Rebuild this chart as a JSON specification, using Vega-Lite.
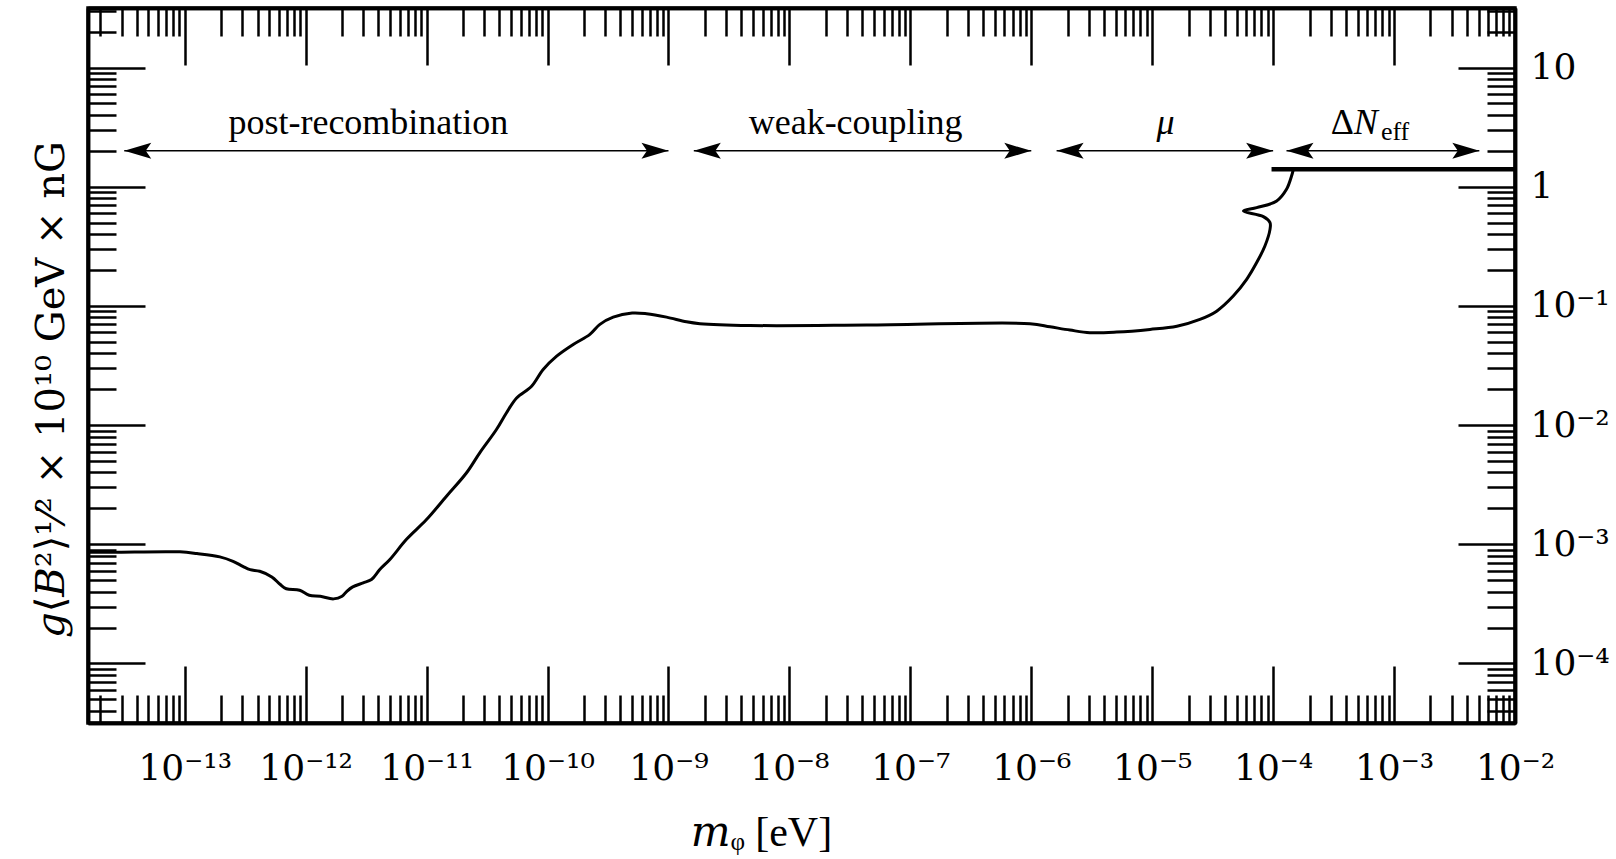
{
  "$schema": "https://vega.github.io/schema/vega-lite/v6.json",
  "width": 1427,
  "height": 715,
  "autosize": {"type": "none"},
  "padding": {"left": 88, "top": 8, "right": 101, "bottom": 136},
  "background": "white",
  "config": {
    "view": {"stroke": "black", "strokeWidth": 3.5},
    "axis": {
      "grid": false,
      "domainColor": "black",
      "domainWidth": 3.5,
      "tickColor": "black",
      "tickWidth": 2.5,
      "labelFont": "DejaVu Serif",
      "titleFont": "Liberation Serif, DejaVu Serif",
      "labelColor": "black",
      "titleColor": "black",
      "labelFontSize": 36,
      "titleFontSize": 42,
      "titleFontWeight": "normal"
    }
  },
  "datasets": {
    "curve": [
      {"i": 0, "m": 1.585e-14, "g": 8.57e-4},
      {"i": 1, "m": 2.57e-14, "g": 8.57e-4},
      {"i": 2, "m": 9.12e-14, "g": 8.63e-4},
      {"i": 3, "m": 1.26e-13, "g": 8.36e-4},
      {"i": 4, "m": 1.95e-13, "g": 7.83e-4},
      {"i": 5, "m": 2.51e-13, "g": 7.19e-4},
      {"i": 6, "m": 3.02e-13, "g": 6.53e-4},
      {"i": 7, "m": 3.47e-13, "g": 6.12e-4},
      {"i": 8, "m": 4.17e-13, "g": 5.93e-4},
      {"i": 9, "m": 5.25e-13, "g": 5.32e-4},
      {"i": 10, "m": 6.17e-13, "g": 4.59e-4},
      {"i": 11, "m": 6.92e-13, "g": 4.23e-4},
      {"i": 12, "m": 8.91e-13, "g": 4.11e-4},
      {"i": 13, "m": 1.07e-12, "g": 3.73e-4},
      {"i": 14, "m": 1.32e-12, "g": 3.66e-4},
      {"i": 15, "m": 1.70e-12, "g": 3.48e-4},
      {"i": 16, "m": 2.00e-12, "g": 3.66e-4},
      {"i": 17, "m": 2.19e-12, "g": 4.03e-4},
      {"i": 18, "m": 2.45e-12, "g": 4.39e-4},
      {"i": 19, "m": 2.99e-12, "g": 4.74e-4},
      {"i": 20, "m": 3.50e-12, "g": 5.06e-4},
      {"i": 21, "m": 4.10e-12, "g": 6.14e-4},
      {"i": 22, "m": 4.97e-12, "g": 7.45e-4},
      {"i": 23, "m": 6.82e-12, "g": 1.10e-3},
      {"i": 24, "m": 9.98e-12, "g": 1.61e-3},
      {"i": 25, "m": 1.46e-11, "g": 2.53e-3},
      {"i": 26, "m": 2.14e-11, "g": 3.98e-3},
      {"i": 27, "m": 2.75e-11, "g": 5.85e-3},
      {"i": 28, "m": 3.78e-11, "g": 9.18e-3},
      {"i": 29, "m": 4.58e-11, "g": 1.27e-2},
      {"i": 30, "m": 5.55e-11, "g": 1.69e-2},
      {"i": 31, "m": 7.38e-11, "g": 2.12e-2},
      {"i": 32, "m": 9.20e-11, "g": 2.93e-2},
      {"i": 33, "m": 1.19e-10, "g": 3.79e-2},
      {"i": 34, "m": 1.63e-10, "g": 4.75e-2},
      {"i": 35, "m": 2.24e-10, "g": 5.77e-2},
      {"i": 36, "m": 2.71e-10, "g": 7.00e-2},
      {"i": 37, "m": 3.49e-10, "g": 8.05e-2},
      {"i": 38, "m": 5.01e-10, "g": 8.71e-2},
      {"i": 39, "m": 6.59e-10, "g": 8.59e-2},
      {"i": 40, "m": 9.64e-10, "g": 8.05e-2},
      {"i": 41, "m": 1.41e-9, "g": 7.36e-2},
      {"i": 42, "m": 1.82e-9, "g": 7.10e-2},
      {"i": 43, "m": 4.71e-9, "g": 6.85e-2},
      {"i": 44, "m": 4.35e-8, "g": 6.90e-2},
      {"i": 45, "m": 9.75e-7, "g": 7.10e-2},
      {"i": 46, "m": 1.43e-6, "g": 6.68e-2},
      {"i": 47, "m": 2.09e-6, "g": 6.27e-2},
      {"i": 48, "m": 3.05e-6, "g": 5.96e-2},
      {"i": 49, "m": 5.08e-6, "g": 6.03e-2},
      {"i": 50, "m": 9.59e-6, "g": 6.35e-2},
      {"i": 51, "m": 1.60e-5, "g": 6.76e-2},
      {"i": 52, "m": 2.48e-5, "g": 7.71e-2},
      {"i": 53, "m": 3.41e-5, "g": 9.04e-2},
      {"i": 54, "m": 4.68e-5, "g": 0.121},
      {"i": 55, "m": 6.04e-5, "g": 0.167},
      {"i": 56, "m": 7.31e-5, "g": 0.231},
      {"i": 57, "m": 8.55e-5, "g": 0.318},
      {"i": 58, "m": 9.42e-5, "g": 0.439},
      {"i": 59, "m": 9.42e-5, "g": 0.50},
      {"i": 60, "m": 8.30e-5, "g": 0.561},
      {"i": 61, "m": 5.68e-5, "g": 0.625},
      {"i": 62, "m": 7.31e-5, "g": 0.668},
      {"i": 63, "m": 1.07e-4, "g": 0.759},
      {"i": 64, "m": 1.29e-4, "g": 0.951},
      {"i": 65, "m": 1.42e-4, "g": 1.23},
      {"i": 66, "m": 1.47e-4, "g": 1.40}
    ],
    "neff": [
      {"m": 9.7e-5, "g": 1.40},
      {"m": 0.01, "g": 1.40}
    ],
    "arrows": [
      {"region": "post-recombination", "m": 3.16e-14, "m2": 1e-9, "g": 2},
      {"region": "weak-coupling", "m": 1.62e-9, "m2": 1e-6, "g": 2},
      {"region": "mu", "m": 1.62e-6, "m2": 1e-4, "g": 2},
      {"region": "neff", "m": 1.29e-4, "m2": 5.07e-3, "g": 2}
    ],
    "labels": [
      {"label": "post-recombination", "m": 3.3e-12, "g": 2.75, "kind": "plain"},
      {"label": "weak-coupling", "m": 3.53e-8, "g": 2.75, "kind": "plain"},
      {"label": "μ", "m": 1.29e-5, "g": 2.75, "kind": "italic"},
      {"label": "Δ", "m": 4.65e-4, "g": 2.75, "kind": "delta"},
      {"label": "N", "m": 4.65e-4, "g": 2.75, "kind": "N"},
      {"label": "eff", "m": 7.78e-4, "g": 2.75, "kind": "sub"}
    ]
  },
  "layer": [
    {
      "data": {"name": "curve"},
      "mark": {"type": "line", "color": "black", "strokeWidth": 3, "strokeJoin": "round", "interpolate": "catmull-rom"},
      "encoding": {
        "x": {
          "field": "m", "type": "quantitative",
          "scale": {"type": "log", "domain": [1.585e-14, 0.01], "nice": false},
          "axis": {
            "orient": "bottom",
            "values": [1e-13, 1e-12, 1e-11, 1e-10, 1e-9, 1e-8, 1e-7, 1e-6, 1e-5, 1e-4, 1e-3, 1e-2],
            "tickSize": -57,
            "labelPadding": 113,
            "labelBaseline": "alphabetic",
            "labelFlush": false,
            "labelOverlap": false,
            "labelExpr": "split('10⁻¹⁴,10⁻¹³,10⁻¹²,10⁻¹¹,10⁻¹⁰,10⁻⁹,10⁻⁸,10⁻⁷,10⁻⁶,10⁻⁵,10⁻⁴,10⁻³,10⁻²', ',')[round(log(datum.value)/LN10) + 14]",
            "title": "𝑚ᵩ [eV]",
            "titleX": 673,
            "titlePadding": 26
          }
        },
        "y": {
          "field": "g", "type": "quantitative",
          "scale": {"type": "log", "domain": [3.162e-5, 31.62], "nice": false},
          "axis": {
            "orient": "right",
            "values": [1e-4, 1e-3, 0.01, 0.1, 1, 10],
            "tickSize": -57,
            "labelPadding": 72,
            "labelAlign": "left",
            "labelBaseline": "middle",
            "labelFlush": false,
            "labelOverlap": false,
            "labelExpr": "split('10⁻⁴,10⁻³,10⁻²,10⁻¹,1,10', ',')[round(log(datum.value)/LN10) + 4]",
            "title": null
          }
        },
        "order": {"field": "i", "type": "quantitative"}
      }
    },
    {
      "data": {"name": "neff"},
      "mark": {"type": "line", "color": "black", "strokeWidth": 4.5, "strokeCap": "butt"},
      "encoding": {
        "x": {
          "field": "m", "type": "quantitative",
          "scale": {"type": "log", "domain": [1.585e-14, 0.01], "nice": false},
          "axis": {
            "orient": "bottom",
            "values": [2e-14,3e-14,4e-14,5e-14,6e-14,7e-14,8e-14,9e-14,2e-13,3e-13,4e-13,5e-13,6e-13,7e-13,8e-13,9e-13,2e-12,3e-12,4e-12,5e-12,6e-12,7e-12,8e-12,9e-12,2e-11,3e-11,4e-11,5e-11,6e-11,7e-11,8e-11,9e-11,2e-10,3e-10,4e-10,5e-10,6e-10,7e-10,8e-10,9e-10,2e-9,3e-9,4e-9,5e-9,6e-9,7e-9,8e-9,9e-9,2e-8,3e-8,4e-8,5e-8,6e-8,7e-8,8e-8,9e-8,2e-7,3e-7,4e-7,5e-7,6e-7,7e-7,8e-7,9e-7,2e-6,3e-6,4e-6,5e-6,6e-6,7e-6,8e-6,9e-6,2e-5,3e-5,4e-5,5e-5,6e-5,7e-5,8e-5,9e-5,2e-4,3e-4,4e-4,5e-4,6e-4,7e-4,8e-4,9e-4,2e-3,3e-3,4e-3,5e-3,6e-3,7e-3,8e-3,9e-3],
            "tickSize": -28,
            "labels": false,
            "title": null
          }
        },
        "y": {
          "field": "g", "type": "quantitative",
          "scale": {"type": "log", "domain": [3.162e-5, 31.62], "nice": false},
          "axis": {
            "orient": "right",
            "values": [4e-5,5e-5,6e-5,7e-5,8e-5,9e-5,2e-4,3e-4,4e-4,5e-4,6e-4,7e-4,8e-4,9e-4,2e-3,3e-3,4e-3,5e-3,6e-3,7e-3,8e-3,9e-3,0.02,0.03,0.04,0.05,0.06,0.07,0.08,0.09,0.2,0.3,0.4,0.5,0.6,0.7,0.8,0.9,2,3,4,5,6,7,8,9,20,30],
            "tickSize": -28,
            "labels": false,
            "title": null
          }
        }
      }
    },
    {
      "data": {"name": "arrows"},
      "mark": {"type": "rule", "color": "black", "strokeWidth": 1.5},
      "encoding": {
        "x": {
          "field": "m", "type": "quantitative",
          "scale": {"type": "log", "domain": [1.585e-14, 0.01], "nice": false},
          "axis": {
            "orient": "top",
            "values": [1e-13, 1e-12, 1e-11, 1e-10, 1e-9, 1e-8, 1e-7, 1e-6, 1e-5, 1e-4, 1e-3, 1e-2],
            "tickSize": -57,
            "labels": false,
            "title": null
          }
        },
        "x2": {"field": "m2"},
        "y": {
          "field": "g", "type": "quantitative",
          "scale": {"type": "log", "domain": [3.162e-5, 31.62], "nice": false},
          "axis": {
            "orient": "left",
            "values": [1e-4, 1e-3, 0.01, 0.1, 1, 10],
            "tickSize": -57,
            "labels": false,
            "title": "𝑔⟨𝐵²⟩¹⁄² × 10¹⁰ GeV × nG",
            "titleFont": "DejaVu Serif",
            "titleFontSize": 40,
            "titleY": 381,
            "titlePadding": 15
          }
        }
      }
    },
    {
      "data": {"name": "arrows"},
      "mark": {"type": "point", "shape": "M0,0L-2.7,-0.8L-2.15,0L-2.7,0.8Z", "filled": true, "color": "black", "opacity": 1, "size": 400, "strokeWidth": 0},
      "encoding": {
        "x": {
          "field": "m2", "type": "quantitative",
          "scale": {"type": "log", "domain": [1.585e-14, 0.01], "nice": false},
          "axis": {
            "orient": "top",
            "values": [2e-14,3e-14,4e-14,5e-14,6e-14,7e-14,8e-14,9e-14,2e-13,3e-13,4e-13,5e-13,6e-13,7e-13,8e-13,9e-13,2e-12,3e-12,4e-12,5e-12,6e-12,7e-12,8e-12,9e-12,2e-11,3e-11,4e-11,5e-11,6e-11,7e-11,8e-11,9e-11,2e-10,3e-10,4e-10,5e-10,6e-10,7e-10,8e-10,9e-10,2e-9,3e-9,4e-9,5e-9,6e-9,7e-9,8e-9,9e-9,2e-8,3e-8,4e-8,5e-8,6e-8,7e-8,8e-8,9e-8,2e-7,3e-7,4e-7,5e-7,6e-7,7e-7,8e-7,9e-7,2e-6,3e-6,4e-6,5e-6,6e-6,7e-6,8e-6,9e-6,2e-5,3e-5,4e-5,5e-5,6e-5,7e-5,8e-5,9e-5,2e-4,3e-4,4e-4,5e-4,6e-4,7e-4,8e-4,9e-4,2e-3,3e-3,4e-3,5e-3,6e-3,7e-3,8e-3,9e-3],
            "tickSize": -28,
            "labels": false,
            "title": null
          }
        },
        "y": {
          "field": "g", "type": "quantitative",
          "scale": {"type": "log", "domain": [3.162e-5, 31.62], "nice": false},
          "axis": {
            "orient": "left",
            "values": [4e-5,5e-5,6e-5,7e-5,8e-5,9e-5,2e-4,3e-4,4e-4,5e-4,6e-4,7e-4,8e-4,9e-4,2e-3,3e-3,4e-3,5e-3,6e-3,7e-3,8e-3,9e-3,0.02,0.03,0.04,0.05,0.06,0.07,0.08,0.09,0.2,0.3,0.4,0.5,0.6,0.7,0.8,0.9,2,3,4,5,6,7,8,9,20,30],
            "tickSize": -28,
            "labels": false,
            "title": null
          }
        }
      }
    },
    {
      "data": {"name": "arrows"},
      "mark": {"type": "point", "shape": "M0,0L2.7,-0.8L2.15,0L2.7,0.8Z", "filled": true, "color": "black", "opacity": 1, "size": 400, "strokeWidth": 0},
      "encoding": {
        "x": {"field": "m", "type": "quantitative", "scale": {"type": "log", "domain": [1.585e-14, 0.01], "nice": false}, "axis": null},
        "y": {"field": "g", "type": "quantitative", "scale": {"type": "log", "domain": [3.162e-5, 31.62], "nice": false}, "axis": null}
      }
    },
    {
      "data": {"name": "labels"},
      "transform": [{"filter": "datum.kind == 'plain'"}],
      "mark": {"type": "text", "font": "Liberation Serif", "fontSize": 36, "baseline": "alphabetic", "align": "center", "color": "black"},
      "encoding": {
        "x": {"field": "m", "type": "quantitative", "scale": {"type": "log", "domain": [1.585e-14, 0.01], "nice": false}, "axis": null},
        "y": {"field": "g", "type": "quantitative", "scale": {"type": "log", "domain": [3.162e-5, 31.62], "nice": false}, "axis": null},
        "text": {"field": "label"}
      }
    },
    {
      "data": {"name": "labels"},
      "transform": [{"filter": "datum.kind == 'italic'"}],
      "mark": {"type": "text", "font": "Liberation Serif", "fontStyle": "italic", "fontSize": 36, "baseline": "alphabetic", "align": "center", "color": "black"},
      "encoding": {
        "x": {"field": "m", "type": "quantitative", "scale": {"type": "log", "domain": [1.585e-14, 0.01], "nice": false}, "axis": null},
        "y": {"field": "g", "type": "quantitative", "scale": {"type": "log", "domain": [3.162e-5, 31.62], "nice": false}, "axis": null},
        "text": {"field": "label"}
      }
    },
    {
      "data": {"name": "labels"},
      "transform": [{"filter": "datum.kind == 'delta'"}],
      "mark": {"type": "text", "font": "Liberation Serif", "fontSize": 36, "baseline": "alphabetic", "align": "right", "color": "black"},
      "encoding": {
        "x": {"field": "m", "type": "quantitative", "scale": {"type": "log", "domain": [1.585e-14, 0.01], "nice": false}, "axis": null},
        "y": {"field": "g", "type": "quantitative", "scale": {"type": "log", "domain": [3.162e-5, 31.62], "nice": false}, "axis": null},
        "text": {"field": "label"}
      }
    },
    {
      "data": {"name": "labels"},
      "transform": [{"filter": "datum.kind == 'N'"}],
      "mark": {"type": "text", "font": "Liberation Serif", "fontStyle": "italic", "fontSize": 36, "baseline": "alphabetic", "align": "left", "color": "black"},
      "encoding": {
        "x": {"field": "m", "type": "quantitative", "scale": {"type": "log", "domain": [1.585e-14, 0.01], "nice": false}, "axis": null},
        "y": {"field": "g", "type": "quantitative", "scale": {"type": "log", "domain": [3.162e-5, 31.62], "nice": false}, "axis": null},
        "text": {"field": "label"}
      }
    },
    {
      "data": {"name": "labels"},
      "transform": [{"filter": "datum.kind == 'sub'"}],
      "mark": {"type": "text", "font": "Liberation Serif", "fontSize": 26, "baseline": "alphabetic", "align": "left", "dy": 6, "color": "black"},
      "encoding": {
        "x": {"field": "m", "type": "quantitative", "scale": {"type": "log", "domain": [1.585e-14, 0.01], "nice": false}, "axis": null},
        "y": {"field": "g", "type": "quantitative", "scale": {"type": "log", "domain": [3.162e-5, 31.62], "nice": false}, "axis": null},
        "text": {"field": "label"}
      }
    }
  ],
  "resolve": {"axis": {"x": "independent", "y": "independent"}}
}
